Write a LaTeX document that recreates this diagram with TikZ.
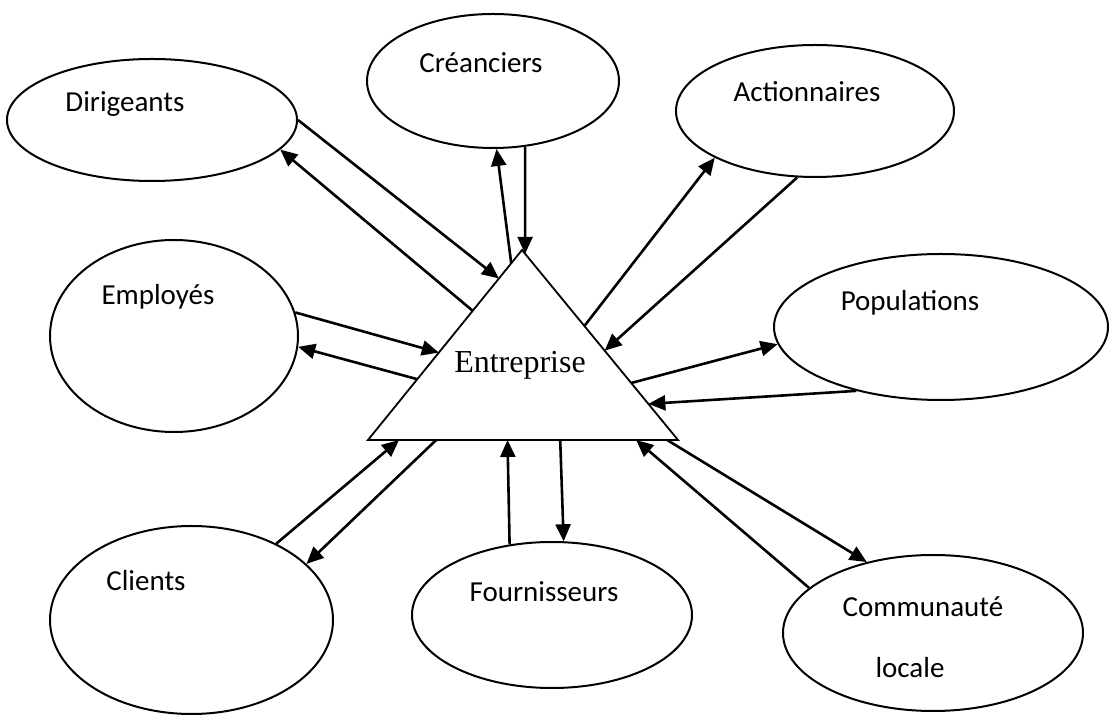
\documentclass[tikz,border=0pt]{standalone}
\usepackage{fontspec}
\setmainfont{Carlito}
\newfontfamily\entfont{Liberation Serif}
\usetikzlibrary{shapes.geometric, arrows.meta, calc}

\begin{document}
\begin{tikzpicture}[x=0.5pt, y=-0.5pt,
    party/.style={ellipse, draw, line width=1pt, inner sep=0pt},
    lbl/.style={font=\fontsize{14.5}{17}\selectfont, inner sep=0pt},
    arr/.style={-{Triangle[length=8.5pt, width=7.5pt]}, line width=1.3pt}]
    \useasboundingbox (0, 0) rectangle (1109, 715);

    % stakeholders
    \node[party, minimum width=145pt, minimum height=61pt] at (152, 120) (dir) {};
    \node[party, minimum width=126pt, minimum height=67pt] at (493, 81) (cre) {};
    \node[party, minimum width=139pt, minimum height=66pt] at (815, 111) (act) {};
    \node[party, minimum width=124pt, minimum height=96pt] at (174, 336) (emp) {};
    \node[party, minimum width=167pt, minimum height=73pt] at (941, 327) (pop) {};
    \node[party, minimum width=141.5pt, minimum height=94pt] at (191.5, 620) (cli) {};
    \node[party, minimum width=140pt, minimum height=73pt] at (552, 615) (fou) {};
    \node[party, minimum width=150pt, minimum height=78pt] at (933, 633) (com) {};

    \node[lbl] at (125, 104) (dirtxt) {Dirigeants};
    \node[lbl] at (481, 63) (cretxt) {Créanciers};
    \node[lbl] at (807, 92) (acttxt) {Actionnaires};
    \node[lbl] at (158, 297) (emptxt) {Employés};
    \node[lbl] at (910, 303) (poptxt) {Populations};
    \node[lbl] at (146, 581) (clitxt) {Clients};
    \node[lbl] at (544, 592) (foutxt) {Fournisseurs};
    \node[lbl] at (923, 607) (comtxt) {Communauté};
    \node[lbl] at (910, 668) (loctxt) {locale};

    % the firm
    \coordinate (apex) at (522, 250);
    \coordinate (bl) at (368, 440);
    \coordinate (br) at (678, 440);
    \draw[line width=0.9pt] (bl) -- (apex) -- (br) -- cycle;
    \node[font=\entfont\fontsize{16}{19}\selectfont, inner sep=0pt] at (520, 365) (ent) {Entreprise};

    \draw[arr] (dir.0) -- ($(bl)!0.85!(apex)$);
    \draw[arr] ($(bl)!0.68!(apex)$) -- (dir.-13);
    \draw[arr] ($(bl)!0.93!(apex)$) -- (cre.-87);
    \draw[arr] (cre.-64) -- ($(br)!0.98!(apex)$);
    \draw[arr] ($(br)!0.6!(apex)$) -- (act.205);
    \draw[arr] (act.-105) -- ($(br)!0.47!(apex)$);
    \draw[arr] (emp.11) -- ($(bl)!0.46!(apex)$);
    \draw[arr] ($(bl)!0.32!(apex)$) -- (emp.-5);
    \draw[arr] ($(br)!0.3!(apex)$) -- (pop.186);
    \draw[arr] (pop.217) -- ($(br)!0.19!(apex)$);
    \draw[arr] (cli.42) -- ($(bl)!0.1!(br)$);
    \draw[arr] ($(bl)!0.22!(br)$) -- (cli.26);
    \draw[arr] (fou.121) -- ($(bl)!0.45!(br)$);
    \draw[arr] ($(bl)!0.62!(br)$) -- (fou.81);
    \draw[arr] ($(bl)!0.965!(br)$) -- (com.133);
    \draw[arr] (com.160) -- ($(bl)!0.865!(br)$);
\end{tikzpicture}
\end{document}
